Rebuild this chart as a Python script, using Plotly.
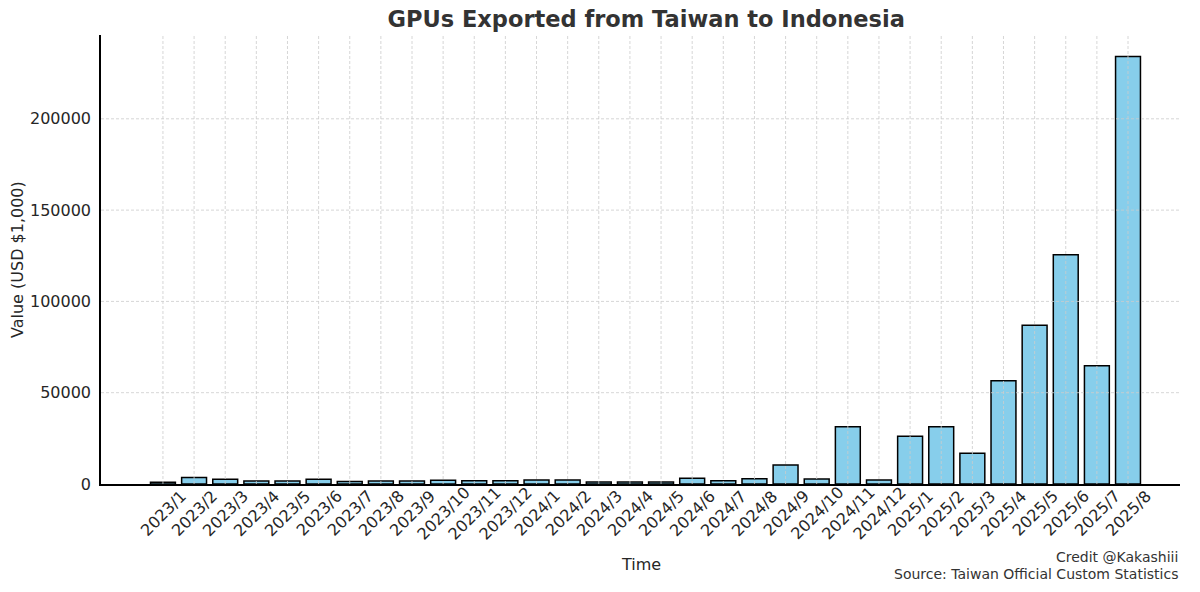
import plotly.graph_objects as go

months = ["2023/1","2023/2","2023/3","2023/4","2023/5","2023/6","2023/7","2023/8","2023/9","2023/10",
          "2023/11","2023/12","2024/1","2024/2","2024/3","2024/4","2024/5","2024/6","2024/7","2024/8",
          "2024/9","2024/10","2024/11","2024/12","2025/1","2025/2","2025/3","2025/4","2025/5","2025/6",
          "2025/7","2025/8"]
values = [1000, 3600, 2600, 1600, 1600, 2600, 1400, 1600, 1600, 2100,
          1800, 1800, 2200, 2200, 1100, 1100, 1100, 3100, 1800, 2900,
          10400, 2700, 31400, 2200, 26100, 31400, 16800, 56600, 86900, 125500,
          64700, 234100]
y_ticks = [0, 50000, 100000, 150000, 200000]

FONT = "DejaVu Sans"
TXT = "#262626"
GRID = "#cccccc"

fig = go.Figure()
fig.add_trace(go.Bar(
    x=list(range(len(months))), y=values,
    marker=dict(color="#87CEEB", line=dict(color="black", width=1.5)),
    width=0.8,
))

fig.update_layout(
    width=1200, height=592,
    margin=dict(l=101, r=20, t=35, b=108),
    plot_bgcolor="white", paper_bgcolor="white",
    showlegend=False,
    font=dict(family=FONT, color=TXT, size=16),
    bargap=0.2,
    title=dict(text="<b>GPUs Exported from Taiwan to Indonesia</b>",
               x=0.5385, xanchor="center", y=0.967, yanchor="middle",
               font=dict(family=FONT, size=22.5, color="#333333")),
)
fig.update_xaxes(
    range=[-1.99, 32.67],
    tickmode="array", tickvals=list(range(len(months))), ticktext=months,
    showticklabels=False, ticks="",
    showline=True, linecolor="black", linewidth=1.5,
    showgrid=False, zeroline=False, automargin=False,
)
fig.update_yaxes(
    range=[0, 245900],
    tickmode="array", tickvals=y_ticks, ticktext=[str(v) for v in y_ticks],
    tickfont=dict(size=16, color=TXT),
    ticks="outside", ticklen=5, tickcolor="rgba(0,0,0,0)",
    showline=True, linecolor="black", linewidth=1.5,
    showgrid=False, zeroline=False, automargin=False,
)

# gridlines drawn above the bars, as in the reference
for i in range(len(months)):
    fig.add_shape(type="line", xref="x", yref="paper", x0=i, x1=i, y0=0, y1=1,
                  layer="above", line=dict(color=GRID, width=0.8, dash="3px,2px"))
for v in y_ticks[1:]:
    fig.add_shape(type="line", xref="paper", yref="y", x0=0, x1=1, y0=v, y1=v,
                  layer="above", line=dict(color=GRID, width=0.8, dash="3px,2px"))

# rotated, centred tick labels
for i, m in enumerate(months):
    fig.add_annotation(text=m, xref="x", yref="paper", x=i, y=(484-513)/449,
                       textangle=-45, xanchor="center", yanchor="middle",
                       showarrow=False, font=dict(family=FONT, size=16, color=TXT))

fig.add_annotation(text="Time", xref="paper", yref="paper", x=0.5, y=(484-564)/449,
                   xanchor="center", yanchor="middle", showarrow=False,
                   font=dict(family=FONT, size=16, color=TXT))
fig.add_annotation(text="Value (USD $1,000)", xref="paper", yref="paper",
                   x=(17-101)/1079, y=(484-260)/449, textangle=-90,
                   xanchor="center", yanchor="middle", showarrow=False,
                   font=dict(family=FONT, size=16, color=TXT))
fig.add_annotation(text="Credit @Kakashiii", xref="paper", yref="paper",
                   x=1, y=(484-557)/449, xanchor="right", yanchor="middle",
                   showarrow=False, font=dict(family=FONT, size=14, color="#333333"))
fig.add_annotation(text="Source: Taiwan Official Custom Statistics", xref="paper", yref="paper",
                   x=1, y=(484-574)/449, xanchor="right", yanchor="middle",
                   showarrow=False, font=dict(family=FONT, size=14, color="#333333"))

fig.write_html("out.html", config={"displayModeBar": False},
               post_script="document.body.style.margin='0px';")
